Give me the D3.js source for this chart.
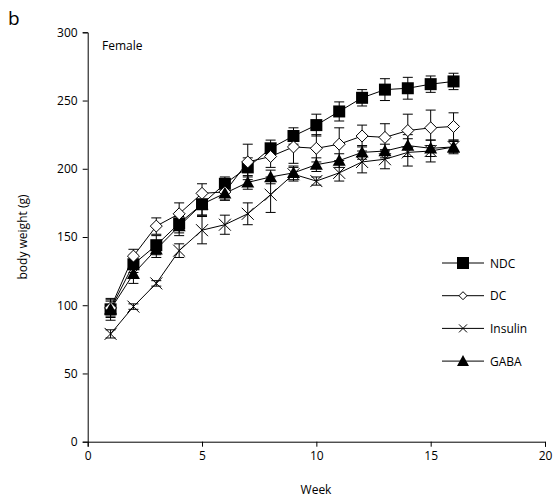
<!DOCTYPE html>
<html><head><meta charset="utf-8">
<script src="https://cdn.jsdelivr.net/npm/d3@7"></script>
<style>body{margin:0;background:#fff}svg{display:block}text{font-family:"Open Sans",sans-serif;fill:#000}</style>
</head><body><svg id="c" width="556" height="500"></svg>
<script>
const weeks = [1,2,3,4,5,6,7,8,9,10,11,12,13,14,15,16];
const ndc     = [97,130,144,160,174,189,201,215,224,232,242,252,258,259,262,264];
const ndcErr  = [8,6,7,7,8,5,7,6,6,8,7,6,8,8,6,6];
const dc      = [98,136,158,167,182,183,205,209,216,215,218,224,223,228,230,231];
const dcErr   = [6,5,6,8,7,6,13,8,12,10,12,8,10,12,13,10];
const insulin = [79,99,116,140,155,159,167,181,196,191,197,205,207,212,213,216];
const insErr  = [3,2,2,5,10,7,8,13,5,3,6,8,7,10,8,4];
const gaba    = [97,123,141,158,174,182,190,194,197,203,206,212,213,217,215,216];
const gabaErr = [6,7,6,7,8,5,5,5,5,5,5,5,5,8,6,5];
const seriesNames = ["NDC","DC","Insulin","GABA"];
const xTicks = [0,5,10,15,20];
const yTicks = [0,50,100,150,200,250,300];

const FONT = "'Open Sans', sans-serif";
const svg = d3.select("#c");
const x = d3.scaleLinear().domain([0,20]).range([87.7,545]);
const y = d3.scaleLinear().domain([0,300]).range([441.7,32.3]);

const series = [
  {name:"NDC", v:ndc, e:ndcErr, sym:"square"},
  {name:"DC", v:dc, e:dcErr, sym:"diamond"},
  {name:"Insulin", v:insulin, e:insErr, sym:"cross"},
  {name:"GABA", v:gaba, e:gabaErr, sym:"triangle"}
];

function marker(g, sym, cx, cy, s) {
  if (sym === "square") {
    g.append("rect").attr("x",cx-s/2).attr("y",cy-s/2).attr("width",s).attr("height",s).attr("fill","#000");
  } else if (sym === "diamond") {
    const h=s/2;
    g.append("path").attr("d",`M${cx},${cy-h}L${cx+h},${cy}L${cx},${cy+h}L${cx-h},${cy}Z`).attr("fill","#fff").attr("stroke","#000").attr("stroke-width",1);
  } else if (sym === "cross") {
    const h=s/2;
    g.append("path").attr("d",`M${cx-h},${cy-h}L${cx+h},${cy+h}M${cx-h},${cy+h}L${cx+h},${cy-h}`).attr("stroke","#000").attr("stroke-width",1);
  } else if (sym === "triangle") {
    const h=s/2;
    g.append("path").attr("d",`M${cx},${cy-h}L${cx+h},${cy+h*0.8}L${cx-h},${cy+h*0.8}Z`).attr("fill","#000");
  }
}

const yAxis = d3.axisLeft(y).tickValues(yTicks).tickSize(5).tickPadding(5);
const xAxis = d3.axisBottom(x).tickValues(xTicks).tickSize(5).tickPadding(5);
const gy = svg.append("g").attr("transform",`translate(${x(0)},0)`).call(yAxis);
const gx = svg.append("g").attr("transform",`translate(0,${y(0)})`).call(xAxis);
[gx,gy].forEach(g=>{g.selectAll("text").attr("font-size",12).attr("font-family",FONT);
  g.select(".domain").attr("stroke","#000"); g.selectAll("line").attr("stroke","#000");});

const line = d3.line().x((d,i)=>x(weeks[i])).y(d=>y(d));
const plot = svg.append("g");
series.forEach(s=>{
  const g = plot.append("g");
  s.v.forEach((v,i)=>{
    const cx = x(weeks[i]), t=y(v+s.e[i]), b=y(v-s.e[i]);
    g.append("line").attr("x1",cx).attr("x2",cx).attr("y1",t).attr("y2",b).attr("stroke","#000").attr("stroke-width",1);
    g.append("line").attr("x1",cx-5).attr("x2",cx+5).attr("y1",t).attr("y2",t).attr("stroke","#000");
    g.append("line").attr("x1",cx-5).attr("x2",cx+5).attr("y1",b).attr("y2",b).attr("stroke","#000");
  });
});
series.forEach(s=>{
  plot.append("path").attr("d",line(s.v)).attr("fill","none").attr("stroke","#000").attr("stroke-width",1);
});
series.forEach(s=>{
  const g = plot.append("g");
  const size = s.sym==="square"?12:(s.sym==="triangle"?13:12);
  s.v.forEach((v,i)=>marker(g,s.sym,x(weeks[i]),y(v),size));
});

const leg = svg.append("g");
series.forEach((s,i)=>{
  const ly = 263 + i*32.7;
  leg.append("line").attr("x1",442).attr("x2",484).attr("y1",ly).attr("y2",ly).attr("stroke","#000");
  const sz = s.sym==="square"?12:(s.sym==="diamond"?8:(s.sym==="cross"?8:12));
  marker(leg,s.sym,463,ly,sz);
  leg.append("text").attr("x",490).attr("y",ly+4.5).attr("font-size",12).text(seriesNames[i]);
});

svg.append("text").attr("x",102).attr("y",50).attr("font-size",12).text("Female");
svg.append("text").attr("x",8).attr("y",25).attr("font-size",19).text("b");
svg.append("text").attr("x",316).attr("y",494).attr("text-anchor","middle").attr("font-size",12).text("Week");
svg.append("text").attr("transform","translate(27,237) rotate(-90)").attr("text-anchor","middle").attr("font-size",12).text("body weight (g)");
</script></body></html>
